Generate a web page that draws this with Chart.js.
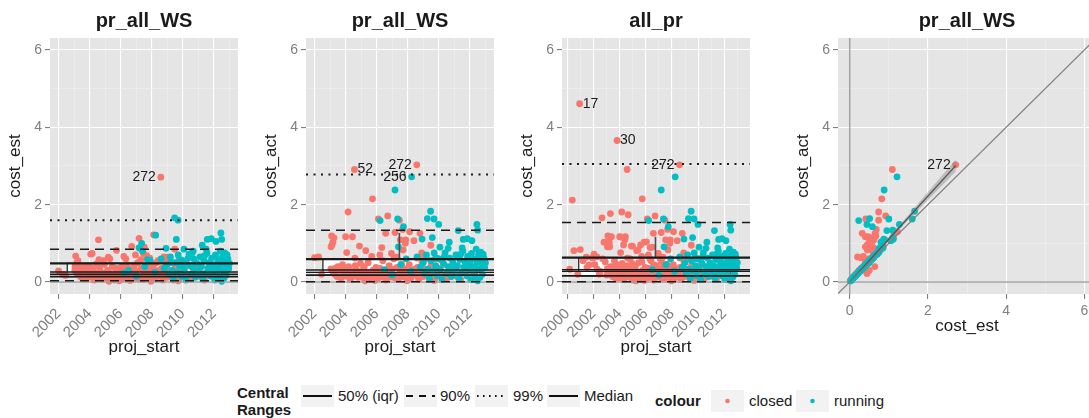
<!DOCTYPE html>
<html>
<head>
<meta charset="utf-8">
<title>Project cost ranges</title>
<script src="https://cdn.jsdelivr.net/npm/chart.js@4.4.1/dist/chart.umd.min.js"></script>
<style>
  html, body { margin: 0; padding: 0; background: #ffffff; }
  body { position: relative; width: 1089px; height: 418px; overflow: hidden;
         font-family: 'Liberation Sans', Arial, Helvetica, sans-serif; }
  canvas { position: absolute; top: 0; }
  .lt { position: absolute; font-size: 15px; line-height: 18px; color: #1a1a1a; white-space: nowrap; }
  .lk { position: absolute; }
</style>
</head>
<body>
<script>
// ---- panel text ----
const panelTitles = ['pr_all_WS', 'pr_all_WS', 'all_pr', 'pr_all_WS'];
const xTitles = ['proj_start', 'proj_start', 'proj_start', 'cost_est'];
const yTitles = ['cost_est', 'cost_act', 'cost_act', 'cost_act'];
const xMin = [2001.45, 2001.45, 1999.59, -0.3];
const xMax = [2013.55, 2013.55, 2013.97, 6.3];
const yMin = -0.31;
const yMax = 6.31;

// ---- projects: [proj_start, cost_est, cost_act] ----
const closedIds = ['52', '272'];      // ids of the first rows of closedRows
const closedRows = [
  [2004.57, 1.09, 2.91], [2008.58, 2.71, 3.03],
  [2002.00, 0.29, 0.63], [2002.26, 0.20, 0.65], [2002.45, 0.17, 0.20],
  [2003.10, 0.67, 1.19], [2003.25, 0.55, 1.14], [2003.18, 0.50, 1.03], [2003.12, 0.45, 0.96], [2003.06, 0.40, 0.91],
  [2004.00, 0.40, 1.17], [2004.44, 0.47, 1.17], [2004.16, 0.74, 1.81], [2004.89, 0.55, 0.93],
  [2005.30, 0.60, 0.81], [2005.73, 0.82, 2.15], [2005.68, 0.35, 0.66],
  [2006.11, 0.41, 1.63], [2006.33, 0.60, 0.89], [2006.71, 0.92, 1.71], [2006.58, 0.32, 1.26],
  [2007.18, 1.13, 1.28], [2007.46, 0.74, 1.60], [2007.67, 0.68, 1.36], [2007.52, 0.90, 1.09],
  [2007.87, 0.62, 1.09], [2007.84, 0.55, 1.00], [2007.70, 0.45, 0.83],
  [2008.12, 1.22, 1.30], [2008.79, 0.65, 1.26], [2009.48, 0.85, 0.95], [2008.90, 0.60, 0.75],
  [2009.20, 0.50, 0.60], [2008.40, 0.55, 1.07], [2005.20, 0.64, 0.40], [2006.90, 0.44, 0.22], [2008.30, 0.50, 0.30],
  [2004.07, 0.72, 0.76], [2004.60, 0.58, 0.62], [2006.20, 0.66, 0.70], [2006.95, 0.70, 0.74], [2007.30, 0.58, 0.64],
  [2008.60, 0.58, 0.62], [2009.00, 0.64, 0.68], [2009.75, 0.57, 0.60], [2010.20, 0.52, 0.55],
  [2003.05, 0.30, 0.34], [2003.20, 0.22, 0.25], [2003.35, 0.32, 0.36], [2003.45, 0.12, 0.14], [2003.50, 0.38, 0.40],
  [2003.60, 0.25, 0.30], [2003.70, 0.08, 0.10], [2003.80, 0.42, 0.45], [2003.90, 0.18, 0.22], [2003.95, 0.30, 0.33],
  [2004.05, 0.12, 0.15], [2004.20, 0.35, 0.40], [2004.30, 0.05, 0.06], [2004.35, 0.24, 0.28], [2004.50, 0.15, 0.20],
  [2004.62, 0.38, 0.42], [2004.70, 0.28, 0.32], [2004.80, 0.08, 0.12], [2004.90, 0.20, 0.24], [2004.95, 0.45, 0.48],
  [2005.05, 0.10, 0.12], [2005.15, 0.30, 0.35], [2005.25, 0.02, 0.03], [2005.35, 0.22, 0.26], [2005.45, 0.40, 0.50],
  [2005.50, 0.15, 0.18], [2005.60, 0.05, 0.07], [2005.75, 0.28, 0.30], [2005.85, 0.12, 0.16], [2005.95, 0.36, 0.38],
  [2006.00, 0.20, 0.22], [2006.10, 0.08, 0.10], [2006.22, 0.32, 0.35], [2006.30, 0.15, 0.17], [2006.40, 0.45, 0.55],
  [2006.50, 0.25, 0.28], [2006.60, 0.04, 0.05], [2006.70, 0.18, 0.20], [2006.80, 0.38, 0.42], [2006.88, 0.10, 0.13],
  [2007.00, 0.28, 0.33], [2007.10, 0.50, 0.60], [2007.20, 0.14, 0.16], [2007.32, 0.35, 0.38], [2007.40, 0.06, 0.08],
  [2007.50, 0.22, 0.25], [2007.60, 0.42, 0.46], [2007.72, 0.12, 0.14], [2007.80, 0.30, 0.34], [2007.95, 0.02, 0.03],
  [2008.00, 0.20, 0.22], [2008.10, 0.40, 0.45], [2008.20, 0.08, 0.10], [2008.32, 0.26, 0.30], [2008.50, 0.15, 0.18],
  [2008.62, 0.35, 0.38], [2008.70, 0.05, 0.06], [2008.80, 0.22, 0.25], [2008.92, 0.45, 0.50],
  [2009.00, 0.12, 0.14], [2009.10, 0.30, 0.33], [2009.25, 0.20, 0.22], [2009.40, 0.05, 0.07], [2009.50, 0.38, 0.42],
  [2009.65, 0.25, 0.30], [2009.80, 0.10, 0.12], [2009.95, 0.32, 0.36],
  [2010.10, 0.18, 0.20], [2010.30, 0.42, 0.45], [2010.50, 0.08, 0.10], [2010.70, 0.28, 0.30], [2010.90, 0.15, 0.16],
  [2011.10, 0.35, 0.38], [2011.40, 0.05, 0.06], [2011.70, 0.22, 0.25],
  [2003.30, 0.18, 0.20], [2003.75, 0.34, 0.37], [2004.10, 0.26, 0.29], [2004.40, 0.10, 0.12], [2004.75, 0.16, 0.18],
  [2005.10, 0.25, 0.27], [2005.40, 0.09, 0.11], [2005.65, 0.20, 0.23], [2005.90, 0.03, 0.04], [2006.15, 0.27, 0.30],
  [2006.45, 0.11, 0.13], [2006.65, 0.30, 0.32], [2006.95, 0.22, 0.24], [2007.15, 0.09, 0.11], [2007.45, 0.31, 0.34],
  [2007.65, 0.18, 0.20], [2007.90, 0.25, 0.28], [2008.15, 0.13, 0.15], [2008.45, 0.30, 0.33], [2008.75, 0.10, 0.12],
  [2009.05, 0.24, 0.27], [2009.35, 0.15, 0.16], [2009.70, 0.03, 0.04], [2010.00, 0.26, 0.28], [2010.40, 0.14, 0.15],
  [2010.80, 0.36, 0.38], [2011.20, 0.12, 0.13], [2011.90, 0.30, 0.31], [2012.20, 0.20, 0.22]
];

const runningIds = ['256'];
const runningRows = [
  [2008.25, 1.21, 2.72],
  [2007.18, 0.88, 2.38], [2007.35, 1.00, 1.63], [2006.22, 0.23, 1.59], [2007.72, 0.58, 1.43],
  [2009.47, 1.66, 1.83], [2009.69, 1.60, 1.63], [2009.26, 0.51, 1.64], [2009.99, 0.44, 1.49],
  [2012.45, 1.27, 1.49], [2012.50, 1.10, 1.34], [2011.25, 0.95, 1.33], [2009.58, 1.10, 1.15],
  [2008.92, 0.87, 1.11], [2011.57, 1.10, 1.10], [2011.83, 1.12, 1.12], [2012.13, 1.05, 1.07],
  [2010.07, 0.85, 0.90], [2010.67, 0.80, 1.03], [2010.60, 0.75, 0.87], [2007.40, 0.80, 0.91],
  [2006.50, 0.30, 0.32], [2007.00, 0.15, 0.18], [2007.55, 0.40, 0.45], [2007.90, 0.55, 0.60], [2008.20, 0.25, 0.28],
  [2008.60, 0.60, 0.65], [2008.80, 0.35, 0.38],
  [2009.00, 0.45, 0.50], [2009.10, 0.20, 0.22], [2009.20, 0.65, 0.70], [2009.30, 0.30, 0.33], [2009.40, 0.08, 0.10],
  [2009.50, 0.50, 0.55], [2009.60, 0.25, 0.28], [2009.70, 0.70, 0.75], [2009.80, 0.40, 0.42], [2009.90, 0.15, 0.17],
  [2010.00, 0.55, 0.60], [2010.10, 0.30, 0.32], [2010.20, 0.05, 0.06], [2010.30, 0.45, 0.48], [2010.40, 0.72, 0.75],
  [2010.50, 0.20, 0.22], [2010.60, 0.38, 0.40], [2010.70, 0.60, 0.62], [2010.80, 0.12, 0.14], [2010.90, 0.48, 0.50],
  [2011.00, 0.28, 0.30], [2011.10, 0.65, 0.70], [2011.20, 0.40, 0.42], [2011.30, 0.08, 0.10], [2011.35, 0.55, 0.58],
  [2011.45, 0.22, 0.24], [2011.55, 0.75, 0.80], [2011.60, 0.35, 0.38], [2011.70, 0.50, 0.52], [2011.80, 0.15, 0.16],
  [2011.85, 0.62, 0.66], [2011.95, 0.30, 0.32],
  [2012.00, 0.45, 0.48], [2012.05, 0.05, 0.06], [2012.10, 0.70, 0.74], [2012.20, 0.25, 0.27], [2012.25, 0.58, 0.60],
  [2012.30, 0.38, 0.40], [2012.35, 0.12, 0.13], [2012.40, 0.80, 0.85], [2012.45, 0.50, 0.52], [2012.50, 0.02, 0.03],
  [2012.55, 0.65, 0.70], [2012.60, 0.30, 0.33], [2012.70, 0.75, 0.77], [2012.75, 0.45, 0.47], [2012.80, 0.18, 0.20],
  [2012.90, 0.60, 0.62], [2013.00, 0.48, 0.50], [2012.65, 0.10, 0.12], [2012.85, 0.70, 0.72],
  [2011.50, 0.85, 0.88], [2010.35, 0.62, 0.65], [2011.05, 0.18, 0.20], [2011.75, 0.42, 0.45], [2012.15, 0.33, 0.35],
  [2012.60, 0.55, 0.57], [2012.95, 0.35, 0.37], [2010.85, 0.30, 0.33], [2009.85, 0.58, 0.62], [2011.40, 0.68, 0.72]
];

// closed projects that only appear in all_pr: [proj_start, cost_act]
const allOnlyIds = ['17', '30'];
const allOnlyRows = [
  [2000.94, 4.61], [2003.80, 3.66],
  [2000.38, 2.12], [2004.65, 1.74], [2003.29, 1.77], [2002.65, 1.66], [2000.50, 0.81], [2000.99, 0.84],
  [2000.18, 0.33], [2001.45, 0.64], [2002.04, 0.72], [2001.66, 0.44], [2002.27, 0.33], [2002.80, 1.03],
  [2003.20, 1.00], [2003.37, 1.17], [2003.24, 0.91], [2004.14, 1.16], [2004.40, 1.09], [2004.30, 0.96],
  [2004.98, 0.93], [2005.40, 0.83], [2005.60, 0.96], [2005.87, 1.03], [2006.05, 1.04], [2006.48, 0.90],
  [2000.80, 0.20], [2001.20, 0.55], [2001.50, 0.38], [2001.90, 0.62], [2002.10, 0.45], [2002.50, 0.28],
  [2002.90, 0.52], [2003.30, 0.40], [2003.60, 0.55], [2003.90, 0.25], [2004.20, 0.48], [2004.50, 0.32],
  [2004.80, 0.60], [2005.10, 0.42], [2005.40, 0.25], [2005.70, 0.52], [2006.00, 0.35], [2006.30, 0.60],
  [2006.60, 0.45], [2006.90, 0.30], [2007.20, 0.52], [2007.50, 0.35], [2007.80, 0.20], [2008.10, 0.40],
  [2008.40, 0.15], [2004.00, 0.10], [2005.00, 0.05], [2006.00, 0.12], [2003.00, 0.18], [2002.70, 0.60]
];

// ---- central ranges for the three time panels ----
const q99Hi    = [1.60, 2.78, 3.05];
const q90Hi    = [0.85, 1.34, 1.54];
const q90Lo    = [0.03, 0.01, 0.01];
const iqrHi    = [0.48, 0.59, 0.63];
const medianLv = [0.26, 0.31, 0.32];
const boxMid   = [0.20, 0.25, 0.28];
const iqrLo    = [0.14, 0.18, 0.16];
const boxLeft  = [2002.56, 2002.54, 2000.87];
const boxRight = [2012.50, 2012.45, 2012.50];
const whiskerX   = [null, 2007.46, 2006.74];
const whiskerTop = [null, 1.27, 1.17];

// ---- cost_est vs cost_act fit ----
const fitLine   = [[0, 0.0], [2.71, 3.01]];
const fitBandLo = [[0, -0.03], [1.35, 1.44], [2.71, 2.86]];
const fitBandHi = [[0, 0.03], [1.35, 1.56], [2.71, 3.17]];

// ---- labelled projects ----
const shownIds = [['272'], ['52', '272', '256'], ['17', '30', '272'], ['272']];
const labelSide = { '52': 'right', '17': 'right', '30': 'right', '272': 'left', '256': 'left' };

// ---- legend ----
const rangeKeyLabels = ['50% (iqr)', '90%', '99%', 'Median'];
const statusLabels = ['closed', 'running'];

// ================= drawing =================
const FONT = "'Liberation Sans', Arial, Helvetica, sans-serif";
const INK = '#1a1a1a';
const RED = '#F8766D';
const TEAL = '#00BFC4';
Chart.defaults.font.family = FONT;
Chart.defaults.animation = false;

const PLOT_LEFT = [50, 306, 562, 838];
const PLOT_W = [188, 188, 188, 258];
const AXIS_W = 50, PLOT_TOP = 38, PLOT_BOTTOM = 294, CANVAS_H = 360;

const bgPlugin = {
  id: 'panelBg',
  beforeDraw(chart) {
    const { ctx, chartArea: a } = chart;
    ctx.save();
    ctx.fillStyle = '#E5E5E5';
    ctx.fillRect(a.left, a.top, a.right - a.left, a.bottom - a.top);
    ctx.restore();
  }
};
const titlePlugin = {
  id: 'panelTitle',
  afterDraw(chart, args, opts) {
    const { ctx, chartArea: a } = chart;
    ctx.save();
    ctx.font = 'bold 20px ' + FONT;
    ctx.fillStyle = INK;
    ctx.textAlign = 'center';
    ctx.textBaseline = 'middle';
    ctx.fillText(opts.text, (a.left + a.right) / 2, 21);
    ctx.restore();
  }
};
const labelPlugin = {
  id: 'pointLabels',
  afterDatasetsDraw(chart, args, opts) {
    const { ctx, scales: { x, y } } = chart;
    ctx.save();
    ctx.font = '14px ' + FONT;
    ctx.fillStyle = INK;
    ctx.textBaseline = 'middle';
    for (const it of opts.items) {
      const px = x.getPixelForValue(it.x), py = y.getPixelForValue(it.y);
      if (it.side === 'left') { ctx.textAlign = 'right'; ctx.fillText(it.text, px - 5, py); }
      else { ctx.textAlign = 'left'; ctx.fillText(it.text, px + 3, py); }
    }
    ctx.restore();
  }
};

const isMajor = v => Math.abs(Math.round(v)) % 2 === 0;
function gridOpts() {
  return {
    color: c => (c.tick && isMajor(c.tick.value)) ? '#FFFFFF' : '#F2F2F2',
    lineWidth: c => (c.tick && isMajor(c.tick.value)) ? 1.1 : 0.55,
    tickColor: c => (c.tick && isMajor(c.tick.value)) ? '#7F7F7F' : 'rgba(0,0,0,0)',
    tickWidth: 1.1, tickLength: 5, drawTicks: true
  };
}
const pts = rows => rows.map(r => ({ x: r[0], y: r[1] }));
function lineDs(rows, color, width, dash, order, extra) {
  return Object.assign({
    type: 'scatter', showLine: true, data: pts(rows), borderColor: color, backgroundColor: color,
    borderWidth: width, borderDash: dash, pointRadius: 0, pointHoverRadius: 0, order: order, fill: false, tension: 0
  }, extra || {});
}
function pointDs(rows, color) {
  return { type: 'scatter', data: pts(rows), backgroundColor: color, borderWidth: 0,
           pointRadius: 3.4, pointHoverRadius: 3.4, order: 1 };
}

function panelDatasets(i) {
  const start = r => r[0];
  if (i === 3) {
    const closed = closedRows.map(r => [r[1], r[2]]);
    const running = runningRows.map(r => [r[1], r[2]]);
    const band = fitBandLo.concat(fitBandHi.slice().reverse(), [fitBandLo[0]]);
    return [
      lineDs([[-1, -1], [7, 7]], '#7F7F7F', 1.2, [], 0),
      lineDs(fitLine, '#555555', 1.4, [], 0),
      lineDs(band, 'rgba(0,0,0,0)', 0, [], 0, { fill: 'shape', backgroundColor: 'rgba(140,140,140,0.45)' }),
      pointDs(running, TEAL),
      pointDs(closed, RED),
      lineDs([[0, -1], [0, 7]], '#A3A3A3', 1.5, [], 2),
      lineDs([[-1, 0], [7, 0]], '#A3A3A3', 1.5, [], 2)
    ];
  }
  const col = i === 0 ? 1 : 2;
  const closed = closedRows.map(r => [start(r), r[col]]);
  if (i === 2) allOnlyRows.forEach(r => closed.push([r[0], r[1]]));
  const running = runningRows.map(r => [start(r), r[col]]);
  const lo = xMin[i], hi = xMax[i];
  const h = v => [[lo, v], [hi, v]];
  const ds = [
    lineDs(h(q99Hi[i]), INK, 2, [2, 5.5], 0),
    lineDs(h(q90Hi[i]), INK, 1.5, [9, 6], 0),
    lineDs(h(q90Lo[i]), INK, 1.5, [9, 6], 0),
    lineDs(h(iqrHi[i]), INK, 2.2, [], 0),
    lineDs(h(medianLv[i]), INK, 1.4, [], 0),
    lineDs(h(boxMid[i]), INK, 1.4, [], 0),
    lineDs(h(iqrLo[i]), INK, 1.7, [], 0)
  ];
  if (whiskerX[i] !== null) ds.push(lineDs([[whiskerX[i], iqrHi[i]], [whiskerX[i], whiskerTop[i]]], '#4D4D4D', 1.6, [], 0));
  ds.push(lineDs(h(0), '#A0A0A0', 1.3, [], 0));
  ds.push(pointDs(running, TEAL));
  ds.push(pointDs(closed, RED));
  const L = boxLeft[i], R = boxRight[i];
  ds.push(lineDs([[L, iqrLo[i]], [R, iqrLo[i]], [R, iqrHi[i]], [L, iqrHi[i]], [L, iqrLo[i]]],
                 INK, 1.2, [], 2, { fill: 'shape', backgroundColor: '#FFFFFF' }));
  return ds;
}

function panelLabels(i) {
  const items = [];
  const xCol = i === 3 ? 1 : 0;
  const yCol = i === 0 ? 1 : 2;
  shownIds[i].forEach(id => {
    let c = closedIds.indexOf(id), r = runningIds.indexOf(id), a = allOnlyIds.indexOf(id);
    let row;
    if (c >= 0) row = [closedRows[c][xCol], closedRows[c][yCol]];
    else if (r >= 0) row = [runningRows[r][xCol], runningRows[r][yCol]];
    else if (a >= 0) row = [allOnlyRows[a][0], allOnlyRows[a][1]];
    if (row) items.push({ x: row[0], y: row[1], text: id, side: labelSide[id] });
  });
  return items;
}

for (let i = 0; i < 4; i++) {
  const cv = document.createElement('canvas');
  const w = AXIS_W + PLOT_W[i] + 6;
  cv.width = w; cv.height = CANVAS_H;
  cv.style.left = (PLOT_LEFT[i] - AXIS_W) + 'px';
  cv.style.width = w + 'px'; cv.style.height = CANVAS_H + 'px';
  document.body.appendChild(cv);
  const timeAxis = i !== 3;
  const rot = timeAxis ? 45 : 0;
  new Chart(cv, {
    type: 'scatter',
    data: { datasets: panelDatasets(i) },
    options: {
      responsive: false, animation: false, events: [],
      layout: { padding: { top: PLOT_TOP, right: 6, left: 0, bottom: 0 } },
      plugins: {
        legend: { display: false }, tooltip: { enabled: false },
        panelTitle: { text: panelTitles[i] },
        pointLabels: { items: panelLabels(i) }
      },
      scales: {
        x: {
          type: 'linear', position: 'bottom', min: xMin[i], max: xMax[i],
          border: { display: false }, grid: gridOpts(),
          ticks: { stepSize: 1, includeBounds: false, autoSkip: false, maxTicksLimit: 100,
                   minRotation: rot, maxRotation: rot, color: '#7F7F7F',
                   font: { size: timeAxis ? 15 : 14 }, padding: timeAxis ? 6 : 4,
                   callback: v => isMajor(v) ? String(v) : '' },
          title: { display: true, text: xTitles[i], color: INK, font: { size: 17 },
                   padding: { top: 0, bottom: timeAxis ? 2 : 23 } },
          afterFit: s => { s.height = CANVAS_H - PLOT_BOTTOM; s.paddingLeft = 0; s.paddingRight = 0; }
        },
        y: {
          type: 'linear', position: 'left', min: yMin, max: yMax,
          border: { display: false }, grid: gridOpts(),
          ticks: { stepSize: 1, includeBounds: false, autoSkip: false, maxTicksLimit: 100,
                   color: '#7F7F7F', font: { size: 14 }, padding: 3,
                   callback: v => isMajor(v) ? String(v) : '' },
          title: { display: true, text: yTitles[i], color: INK, font: { size: 17 }, padding: { top: 5, bottom: 0 } },
          afterFit: s => { s.width = AXIS_W; s.paddingTop = 0; s.paddingBottom = 0; }
        }
      }
    },
    plugins: [bgPlugin, titlePlugin, labelPlugin]
  });
}

// ---- legend ----
function addText(txt, left, cy, bold) {
  const d = document.createElement('div');
  d.className = 'lt';
  d.textContent = txt;
  d.style.left = left + 'px';
  d.style.top = (cy - 9) + 'px';
  if (bold) d.style.fontWeight = 'bold';
  document.body.appendChild(d);
}
function addKey(left, top, inner) {
  const d = document.createElement('div');
  d.className = 'lk';
  d.style.left = left + 'px';
  d.style.top = top + 'px';
  d.innerHTML = '<svg width="33" height="22" xmlns="http://www.w3.org/2000/svg">' +
    '<rect x="0" y="0" width="33" height="22" fill="#F2F2F2"/>' + inner + '</svg>';
  document.body.appendChild(d);
}
addText('Central', 237, 393, true);
addText('Ranges', 237, 410, true);
const rangeKeyLeft = [301, 404, 475, 547];
const rangeTextLeft = [338, 440, 513, 584];
const rangeKeyDash = ['', '7,6', '1.6,4.4', ''];
rangeKeyLabels.forEach((t, k) => {
  const dash = rangeKeyDash[k] ? ' stroke-dasharray="' + rangeKeyDash[k] + '"' : '';
  addKey(rangeKeyLeft[k], 385, '<line x1="2" y1="11" x2="31" y2="11" stroke="#111" stroke-width="2"' + dash + '/>');
  addText(t, rangeTextLeft[k], 396, false);
});
addText('colour', 655, 401, true);
const statusKeyLeft = [711, 796];
const statusTextLeft = [749, 834];
const statusColors = [RED, TEAL];
statusLabels.forEach((t, k) => {
  addKey(statusKeyLeft[k], 390, '<circle cx="16.5" cy="11" r="2.3" fill="' + statusColors[k] + '"/>');
  addText(t, statusTextLeft[k], 401, false);
});
</script>
</body>
</html>
